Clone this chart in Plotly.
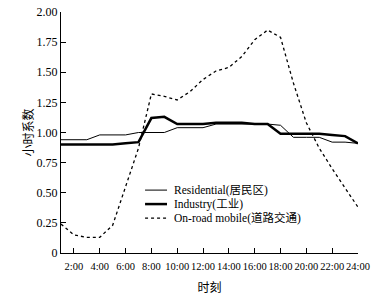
import plotly.graph_objects as go

hours = list(range(1, 25))
residential = [0.94, 0.94, 0.94, 0.98, 0.98, 0.98, 1.00, 1.00, 1.00, 1.04, 1.04, 1.04,
               1.07, 1.07, 1.07, 1.07, 1.07, 1.06, 0.96, 0.96, 0.96, 0.92, 0.92, 0.91]
industry = [0.90, 0.90, 0.90, 0.90, 0.90, 0.91, 0.92, 1.12, 1.13, 1.07, 1.07, 1.07,
            1.08, 1.08, 1.08, 1.07, 1.07, 0.99, 0.99, 0.99, 0.99, 0.98, 0.97, 0.91]
onroad = [0.24, 0.15, 0.13, 0.13, 0.23, 0.56, 0.87, 1.32, 1.30, 1.27, 1.34, 1.44,
          1.51, 1.54, 1.63, 1.77, 1.85, 1.79, 1.41, 1.08, 0.87, 0.70, 0.54, 0.38]

series_names = ["Residential(居民区)", "Industry(工业)", "On-road mobile(道路交通)"]

x_tickvals = [2, 4, 6, 8, 10, 12, 14, 16, 18, 20, 22, 24]
x_ticktext = ["2:00", "4:00", "6:00", "8:00", "10:00", "12:00", "14:00", "16:00",
              "18:00", "20:00", "22:00", "24:00"]
y_tickvals = [0, 0.25, 0.5, 0.75, 1.0, 1.25, 1.5, 1.75, 2.0]
y_ticktext = ["0", "0.25", "0.50", "0.75", "1.00", "1.25", "1.50", "1.75", "2.00"]

FONT = '"Liberation Serif", "Times New Roman", "Noto Sans CJK SC", serif'

styles = [dict(color="black", width=1),
          dict(color="black", width=2.5),
          dict(color="black", width=1.3, dash="3px,3px")]

fig = go.Figure()
for name, vals, st in zip(series_names, [residential, industry, onroad], styles):
    fig.add_trace(go.Scatter(x=hours, y=vals, mode="lines", name=name,
                             line=st, showlegend=False, hoverinfo="skip"))

# manual legend (compact row spacing like the reference)
leg_x0, leg_x1, leg_tx = 0.283, 0.357, 0.374
leg_rows = [0.261, 0.203, 0.145]
for name, st, ly in zip(series_names, styles, leg_rows):
    fig.add_shape(type="line", xref="paper", yref="paper",
                  x0=leg_x0, x1=leg_x1, y0=ly, y1=ly,
                  line=dict(color="black", width=st["width"], dash=st.get("dash", "solid")))
    fig.add_annotation(xref="paper", yref="paper", x=leg_tx, y=ly, text=name,
                       showarrow=False, xanchor="left", yanchor="middle",
                       font=dict(family=FONT, size=11.5, color="black"))

fig.update_layout(
    width=381, height=295,
    margin=dict(l=61, r=23, t=12, b=42),
    paper_bgcolor="white", plot_bgcolor="white",
    font=dict(family=FONT, size=11, color="black"),
    showlegend=False,
    xaxis=dict(range=[1, 24], tickvals=x_tickvals, ticktext=x_ticktext,
               tickangle=0, ticklabelstandoff=3, automargin=False,
               showline=True, linecolor="black", linewidth=1,
               ticks="inside", ticklen=5, tickcolor="black", tickwidth=1,
               showgrid=False, zeroline=False,
               tickfont=dict(family=FONT, size=10.5),
               title=dict(text="时刻", font=dict(family=FONT, size=12), standoff=15)),
    yaxis=dict(range=[0, 2.0], tickvals=y_tickvals, ticktext=y_ticktext,
               automargin=False,
               showline=True, linecolor="black", linewidth=1,
               ticks="inside", ticklen=5, tickcolor="black", tickwidth=1,
               showgrid=False, zeroline=False,
               tickfont=dict(family=FONT, size=12),
               title=dict(text="小时系数", font=dict(family=FONT, size=12), standoff=0)),
)

# remove the page's default 8px body margin so the figure sits at the window origin
fig.write_html("out.html", config={"displayModeBar": False},
               post_script="document.body.style.margin='0';document.body.style.overflow='hidden';")
